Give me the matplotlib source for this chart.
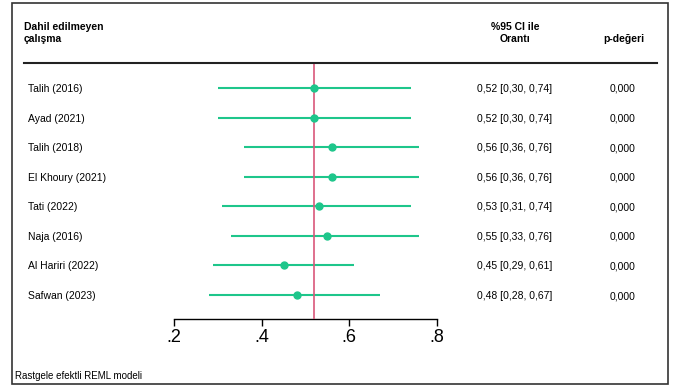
import matplotlib.pyplot as plt
from matplotlib.transforms import blended_transform_factory
from matplotlib.patches import Rectangle

plt.rcParams['font.family'] = ['Liberation Sans', 'DejaVu Sans']

studies = ["Talih (2016)", "Ayad (2021)", "Talih (2018)", "El Khoury (2021)",
           "Tati (2022)", "Naja (2016)", "Al Hariri (2022)", "Safwan (2023)"]
est = [0.52, 0.52, 0.56, 0.56, 0.53, 0.55, 0.45, 0.48]
lo = [0.30, 0.30, 0.36, 0.36, 0.31, 0.33, 0.29, 0.28]
hi = [0.74, 0.74, 0.76, 0.76, 0.74, 0.76, 0.61, 0.67]
pvals = ["0,000"] * 8
pooled = 0.52
xticks = [0.2, 0.4, 0.6, 0.8]
xticklabels = [".2", ".4", ".6", ".8"]

green = "#1ec68b"
pink = "#d9577a"


def fmt(v):
    return f"{v:.2f}".replace(".", ",")


W, H = 675, 387
fig = plt.figure(figsize=(W / 100, H / 100), dpi=100)

# forest axes, placed in pixel terms
ax = fig.add_axes([174 / W, 1 - 319 / H, (437 - 174) / W, (319 - 63) / H])
ax.set_xlim(0.2, 0.8)
ax.set_ylim(len(studies) - 1 + 0.81, -0.845)
for s in ["top", "right", "left"]:
    ax.spines[s].set_visible(False)
ax.spines["bottom"].set_linewidth(1.0)
ax.set_yticks([])
ax.set_xticks(xticks)
ax.set_xticklabels(xticklabels, fontsize=13)
ax.tick_params(axis="x", direction="out", length=5, width=1, pad=2)
ax.patch.set_alpha(0)

rows = list(range(len(studies)))
ax.hlines(rows, lo, hi, color=green, lw=1.5, zorder=2)
ax.plot(est, rows, "o", color=green, ms=5, zorder=4)
ax.axvline(pooled, color=pink, lw=1.2, zorder=3)

tr = blended_transform_factory(fig.transFigure, ax.transData)
for i, name in enumerate(studies):
    fig.text(28 / W, i, name, transform=tr, fontsize=7.5, va="center_baseline", ha="left")
    fig.text(477 / W, i, f"{fmt(est[i])} [{fmt(lo[i])}, {fmt(hi[i])}]",
             transform=tr, fontsize=7.5, va="center_baseline", ha="left")
    fig.text(610 / W, i, pvals[i], transform=tr, fontsize=7.5,
             va="center_baseline", ha="left")

# headers
fig.text(24 / W, 1 - 27 / H, "Dahil edilmeyen", fontsize=7.5, weight="bold", va="center")
fig.text(24 / W, 1 - 39 / H, "çalışma", fontsize=7.5, weight="bold", va="center")
fig.text(515 / W, 1 - 27 / H, "%95 CI ile", fontsize=7.5, weight="bold", va="center", ha="center")
fig.text(515 / W, 1 - 39 / H, "Orantı", fontsize=7.5, weight="bold", va="center", ha="center")
fig.text(624 / W, 1 - 39 / H, "p-değeri", fontsize=7.5, weight="bold", va="center", ha="center")

fig.add_artist(plt.Line2D([24 / W, 657 / W], [1 - 63 / H, 1 - 63 / H], color="#222222", lw=1.5))

fig.text(15 / W, 1 - 376 / H, "Rastgele efektli REML modeli", fontsize=7, va="center")

fig.add_artist(Rectangle((12 / W, 1 - 384 / H), (668 - 12) / W, (384 - 3) / H,
                         transform=fig.transFigure, fill=False, ec="#333333", lw=1.2))

fig.savefig("out.png", dpi=100)
